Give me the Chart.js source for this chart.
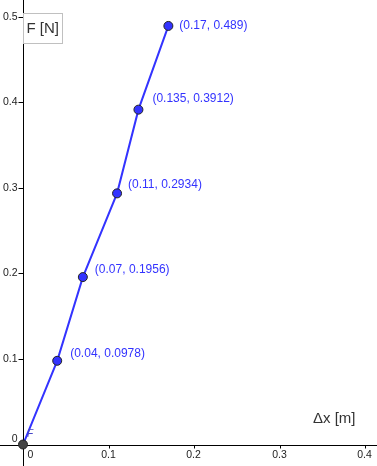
<!DOCTYPE html>
<html>
<head>
<meta charset="utf-8">
<script src="https://cdn.jsdelivr.net/npm/chart.js@4.4.1/dist/chart.umd.min.js"></script>
<style>
  html, body { margin: 0; padding: 0; background: #fff; }
  #wrap { width: 377px; height: 466px; position: relative; }
</style>
</head>
<body>
<div id="wrap"><canvas id="myChart"></canvas></div>
<script>
// measured points: elongation (m) vs force (N)
const dx = [0, 0.04, 0.07, 0.11, 0.135, 0.17];
const force = [0, 0.0978, 0.1956, 0.2934, 0.3912, 0.489];
const xTicks = [0.1, 0.2, 0.3, 0.4];
const yTicks = [0.1, 0.2, 0.3, 0.4, 0.5];

const blue = 'rgb(51, 51, 255)';
const tickFont = '10.5px "Liberation Sans", Arial, sans-serif';

// offsets of the coordinate labels, relative to each point
const labelDx = [0, 13, 12, 11, 14, 11];
const labelDy = [0, -7, -7, -9, -11, 0];

const axesPlugin = {
    id: 'geoAxes',
    beforeDatasetsDraw(chart) {
        const c = chart.ctx;
        const xs = chart.scales.x, ys = chart.scales.y;
        const ox = Math.round(xs.getPixelForValue(0)) + 0.5;
        const oy = Math.round(ys.getPixelForValue(0)) + 0.5;
        c.save();
        c.strokeStyle = '#000';
        c.lineWidth = 1;
        c.beginPath();
        c.moveTo(0, oy); c.lineTo(chart.width, oy);
        c.moveTo(ox, 0); c.lineTo(ox, chart.height);
        c.stroke();

        c.font = tickFont;
        c.fillStyle = '#222';
        // x ticks
        c.textAlign = 'center';
        c.textBaseline = 'middle';
        xTicks.forEach(v => {
            const px = Math.round(xs.getPixelForValue(v)) + 0.5;
            c.beginPath(); c.moveTo(px, oy); c.lineTo(px, oy + 3); c.stroke();
            c.fillText(v.toString(), px - 1, oy + 10);
        });
        c.fillText('0', ox + 7, oy + 10);
        // y ticks
        c.textAlign = 'right';
        yTicks.forEach(v => {
            const py = Math.round(ys.getPixelForValue(v)) + 0.5;
            c.beginPath(); c.moveTo(ox - 5, py); c.lineTo(ox, py); c.stroke();
            c.fillText(v.toString(), ox - 6, py);
        });
        c.fillText('0', ox - 6, oy - 6);

        // axis names
        c.font = '15px "Liberation Sans", Arial, sans-serif';
        c.fillStyle = '#333';
        c.textAlign = 'left';
        c.fillText('\u0394x [m]', 313, 419);
        c.fillStyle = '#fff';
        c.fillRect(ox, 13.5, 39, 30);
        c.strokeStyle = '#c0c0c0';
        c.strokeRect(ox, 13.5, 39, 30);
        c.fillStyle = '#333';
        c.fillText('F [N]', ox + 3, 29);
        c.restore();
    },
    afterDatasetsDraw(chart) {
        const c = chart.ctx;
        const meta = chart.getDatasetMeta(0);
        c.save();
        c.font = '12px "Liberation Sans", Arial, sans-serif';
        c.fillStyle = blue;
        c.textAlign = 'left';
        c.textBaseline = 'middle';
        meta.data.forEach((pt, i) => {
            if (i === 0) return;
            c.fillText('(' + dx[i] + ', ' + force[i] + ')', pt.x + labelDx[i], pt.y + labelDy[i]);
        });
        const o = meta.data[0];
        c.font = 'italic 10px "Liberation Sans", Arial, sans-serif';
        c.fillStyle = 'rgb(70, 70, 200)';
        c.fillText('F', o.x + 4, o.y - 10);
        c.restore();
    }
};

const ctx = document.getElementById('myChart');
const myChart = new Chart(ctx, {
    type: 'scatter',
    data: {
        datasets: [{
            data: dx.map((x, i) => ({ x: x, y: force[i] })),
            showLine: true,
            borderColor: blue,
            borderWidth: 2,
            pointRadius: 4.5,
            pointBackgroundColor: dx.map((x, i) => i === 0 ? '#444' : blue),
            pointBorderColor: '#222',
            pointBorderWidth: 1,
        }]
    },
    options: {
        responsive: true,
        maintainAspectRatio: false,
        animation: false,
        layout: { padding: 0, autoPadding: false },
        plugins: {
            legend: { display: false },
            title: { display: false },
            tooltip: { enabled: false }
        },
        scales: {
            x: { type: 'linear', display: false, min: -0.0269, max: 0.414 },
            y: { type: 'linear', display: false, min: -0.0251, max: 0.5193 }
        }
    },
    plugins: [axesPlugin]
});
</script>
</body>
</html>
